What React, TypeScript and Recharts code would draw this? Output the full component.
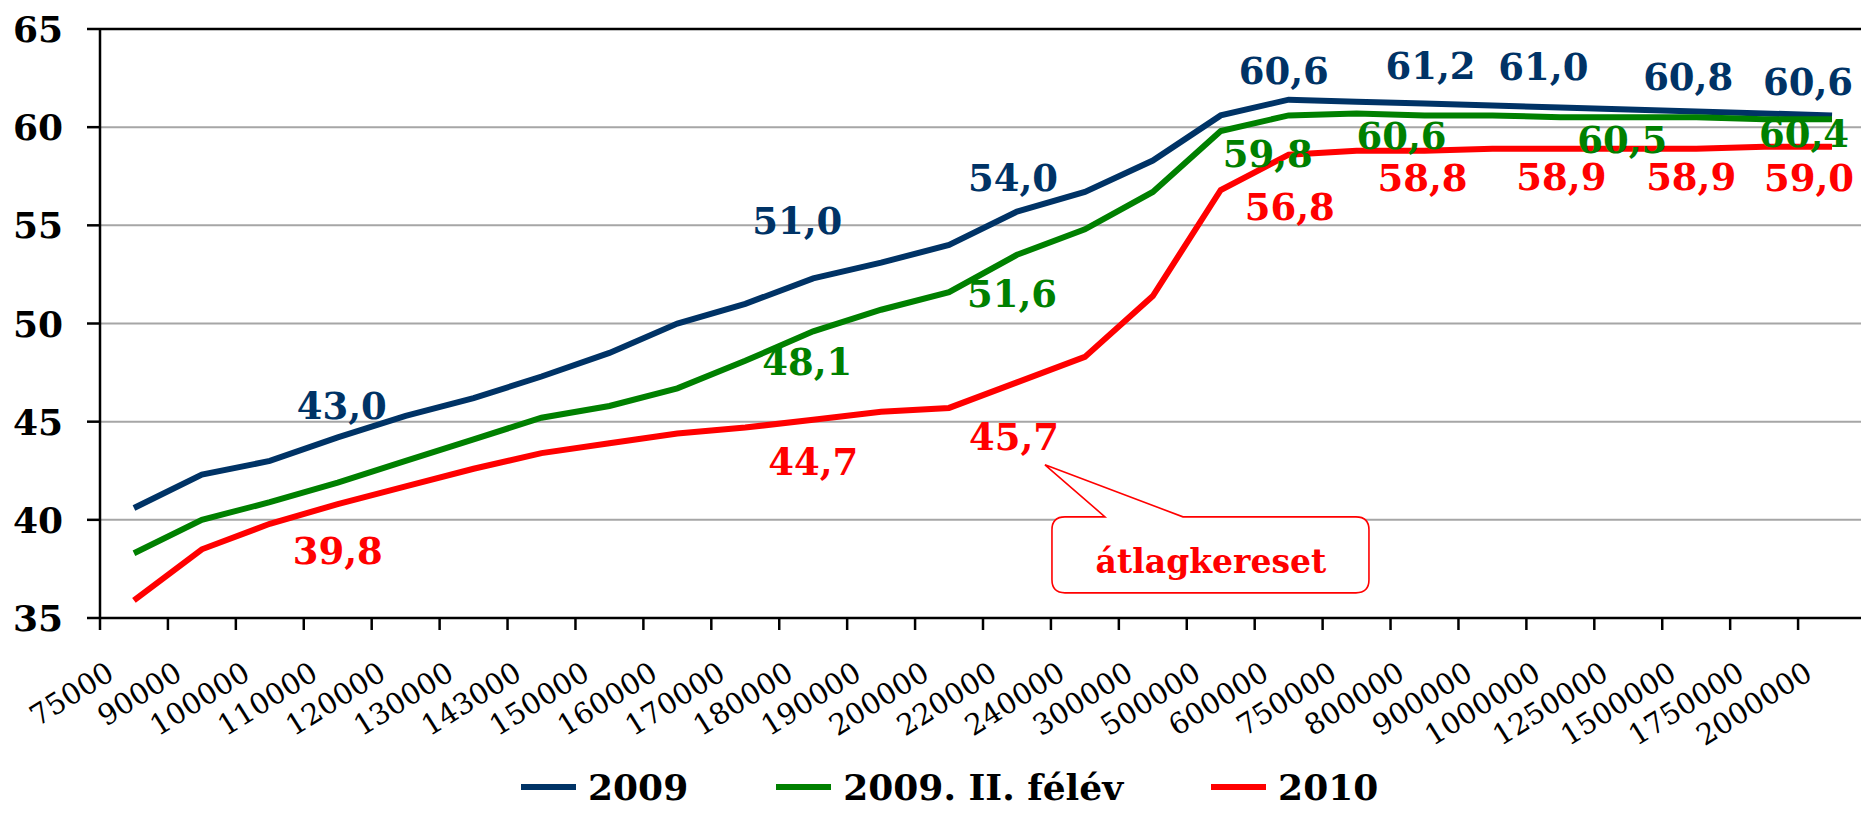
import React from 'react';
import {
  LineChart,
  Line,
  XAxis,
  YAxis,
  CartesianGrid,
  Legend,
  LabelList,
  ReferenceLine,
  ReferenceDot,
} from 'recharts';

// ---------- data ----------
const categories = [
  '75000', '90000', '100000', '110000', '120000', '130000', '143000', '150000',
  '160000', '170000', '180000', '190000', '200000', '220000', '240000', '300000',
  '500000', '600000', '750000', '800000', '900000', '1000000', '1250000',
  '1500000', '1750000', '2000000',
];

const series2009 = [
  40.6, 42.3, 43.0, 44.2, 45.3, 46.2, 47.3, 48.5, 50.0, 51.0, 52.3, 53.1, 54.0,
  55.7, 56.7, 58.3, 60.6, 61.4, 61.3, 61.2, 61.1, 61.0, 60.9, 60.8, 60.7, 60.6,
];

const series2009H2 = [
  38.3, 40.0, 40.9, 41.9, 43.0, 44.1, 45.2, 45.8, 46.7, 48.1, 49.6, 50.7, 51.6,
  53.5, 54.8, 56.7, 59.8, 60.6, 60.7, 60.6, 60.6, 60.5, 60.5, 60.5, 60.4, 60.4,
];

const series2010 = [
  35.9, 38.5, 39.8, 40.8, 41.7, 42.6, 43.4, 43.9, 44.4, 44.7, 45.1, 45.5, 45.7,
  47.0, 48.3, 51.4, 56.8, 58.6, 58.8, 58.8, 58.9, 58.9, 58.9, 58.9, 59.0, 59.0,
];

const yTicks = [35, 40, 45, 50, 55, 60, 65];

const seriesNames = ['2009', '2009. II. félév', '2010'];
const calloutText = 'átlagkereset';

const data = categories.map((c, i) => ({
  cat: c,
  s2009: series2009[i],
  s2009h2: series2009H2[i],
  s2010: series2010[i],
}));

// ---------- styling / layout ----------
const FONT = '"DejaVu Serif", serif';
const C_BLUE = '#003366';
const C_GREEN = '#008000';
const C_RED = '#ff0000';

// which points carry a value label, and where the label centre sits relative to the point
const labelPos2009: Record<number, [number, number]> = {
  2: [72, -55], 9: [52, -83], 12: [64, -67], 16: [63, -45],
  19: [6, -38], 21: [-17, -41], 23: [-8, -35], 25: [-24, -34],
};
const labelPosH2: Record<number, [number, number]> = {
  9: [62, 1], 12: [63, 1], 16: [47, 22], 19: [-23, 20], 22: [-6, 22], 25: [-28, 14],
};
const labelPos2010: Record<number, [number, number]> = {
  2: [68, 27], 9: [68, 34], 12: [65, 29], 16: [69, 17],
  19: [-2, 27], 21: [1, 28], 23: [-5, 28], 25: [-23, 31],
};

const fmt = (v: number) => v.toFixed(1).replace('.', ',');

const makeLabel = (color: string, pos: Record<number, [number, number]>) => (props: any) => {
  const { x, y, value, index } = props;
  const off = pos[index];
  if (!off || x == null || y == null) return null;
  const cx = x + off[0];
  const cy = y + off[1] + 13.5;
  return (
    <text
      x={cx}
      y={cy}
      textAnchor="middle"
      fill={color}
      fontFamily={FONT}
      fontWeight="bold"
      fontSize={37}
    >
      {fmt(Number(value))}
    </text>
  );
};

const YTick = (props: any) => {
  const { x, y, payload } = props;
  return (
    <text x={x} y={y + 13} textAnchor="end" fill="#000" fontFamily={FONT} fontWeight="bold" fontSize={36}>
      {payload.value}
    </text>
  );
};

const XTick = (props: any) => {
  const { x, y, payload } = props;
  const off = payload.offset ?? 0;
  const bx = x - off;
  return (
    <g>
      <line x1={bx} y1={y} x2={bx} y2={y + 12} stroke="#000" strokeWidth={2.5} />
      <text
        transform={`translate(${x - 18},${y + 60}) rotate(-32)`}
        textAnchor="end"
        fill="#000"
        fontFamily={FONT}
        fontSize={29}
      >
        {payload.value}
      </text>
    </g>
  );
};

const Callout = (props: any) => {
  const { cx, cy } = props;
  if (cx == null || cy == null) return null;
  const x0 = cx + 35;
  const x1 = cx + 352;
  const y0 = cy - 3;
  const y1 = cy + 73;
  const r = 13;
  const a = cx + 88;
  const b = cx + 166;
  const tx = cx + 28;
  const ty = cy - 55;
  const d = [
    `M${x0 + r},${y0}`, `L${a},${y0}`, `L${tx},${ty}`, `L${b},${y0}`, `L${x1 - r},${y0}`,
    `Q${x1},${y0} ${x1},${y0 + r}`, `L${x1},${y1 - r}`, `Q${x1},${y1} ${x1 - r},${y1}`,
    `L${x0 + r},${y1}`, `Q${x0},${y1} ${x0},${y1 - r}`, `L${x0},${y0 + r}`,
    `Q${x0},${y0} ${x0 + r},${y0}`, 'Z',
  ].join(' ');
  return (
    <g>
      <path d={d} fill="#fff" stroke={C_RED} strokeWidth={1.6} />
      <text x={cx + 194} y={cy + 53} textAnchor="middle" fill={C_RED} fontFamily={FONT} fontWeight="bold" fontSize={33}>
        {calloutText}
      </text>
    </g>
  );
};

const renderLegend = (props: any) => {
  const { payload } = props;
  return (
    <div
      style={{
        height: 60,
        display: 'flex',
        alignItems: 'center',
        paddingLeft: 521,
        gap: 88,
        fontFamily: FONT,
        fontWeight: 'bold',
        fontSize: 36,
        color: '#000',
      }}
    >
      {(payload || []).map((e: any) => (
        <div key={e.value} style={{ display: 'flex', alignItems: 'center' }}>
          <span style={{ display: 'inline-block', width: 55, height: 6, background: e.color, marginRight: 12 }} />
          <span style={{ lineHeight: '60px' }}>{e.value}</span>
        </div>
      ))}
    </div>
  );
};

export default function App() {
  return (
    <div style={{ position: 'absolute', left: 0, top: 0, width: 1861, height: 837, overflow: 'hidden', background: '#fff' }}>
      <LineChart width={1870} height={837} data={data} margin={{ top: 29, right: 4, left: 0, bottom: 0 }}>
        <CartesianGrid horizontal vertical={false} stroke="#a6a6a6" strokeWidth={2} />
        <ReferenceLine y={65} stroke="#000" strokeWidth={2.5} />
        <XAxis
          dataKey="cat"
          scale="band"
          interval={0}
          height={159}
          tickSize={0}
          tickMargin={0}
          tickLine={false}
          axisLine={{ stroke: '#000', strokeWidth: 2.5 }}
          tick={<XTick />}
        />
        <YAxis
          width={100}
          domain={[35, 65]}
          ticks={yTicks}
          interval={0}
          tickSize={13}
          tickMargin={24}
          tickLine={{ stroke: '#000', strokeWidth: 2.5 }}
          axisLine={{ stroke: '#000', strokeWidth: 2.5 }}
          tick={<YTick />}
        />
        <Line type="linear" dataKey="s2009" name={seriesNames[0]} stroke={C_BLUE} strokeWidth={6} dot={false} isAnimationActive={false}>
          <LabelList dataKey="s2009" content={makeLabel(C_BLUE, labelPos2009)} />
        </Line>
        <Line type="linear" dataKey="s2009h2" name={seriesNames[1]} stroke={C_GREEN} strokeWidth={6} dot={false} isAnimationActive={false}>
          <LabelList dataKey="s2009h2" content={makeLabel(C_GREEN, labelPosH2)} />
        </Line>
        <Line type="linear" dataKey="s2010" name={seriesNames[2]} stroke={C_RED} strokeWidth={6} dot={false} isAnimationActive={false}>
          <LabelList dataKey="s2010" content={makeLabel(C_RED, labelPos2010)} />
        </Line>
        <ReferenceDot x={categories[13]} y={40} r={0} shape={<Callout />} ifOverflow="visible" />
        <Legend
          verticalAlign="bottom"
          content={renderLegend}
          wrapperStyle={{ left: 0, top: 757, bottom: 'auto', width: 1861, height: 60 }}
        />
      </LineChart>
    </div>
  );
}
